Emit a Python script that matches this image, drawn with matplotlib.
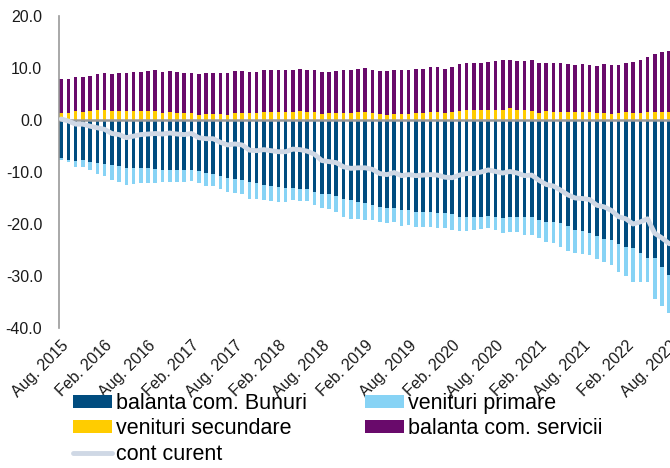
#!/usr/bin/env python3

# Current account components (monthly, stacked bars) with the current account line

import matplotlib
matplotlib.use('Agg')
import matplotlib.pyplot as plt
import numpy as np
import pandas as pd

months = pd.period_range('2015-08', '2022-08', freq='M')

goods = [-7.4, -7.6, -7.9, -7.7, -8.0, -8.2, -8.5, -8.7, -8.8, -9.2,
         -9.3, -9.3, -9.3, -9.4, -9.6, -9.6, -9.6, -9.7, -9.7, -9.9,
         -10.1, -10.4, -10.8, -11.1, -11.3, -11.5, -11.9, -12.2, -12.5, -12.7,
         -12.9, -13.1, -13.1, -13.3, -13.3, -13.8, -14.3, -14.2, -14.7, -15.1,
         -15.3, -15.7, -15.9, -16.3, -16.7, -16.9, -17.0, -17.3, -17.3, -17.6,
         -17.6, -17.6, -17.8, -17.9, -18.1, -18.6, -18.6, -18.6, -18.6, -18.5,
         -18.7, -18.9, -18.7, -18.7, -18.7, -18.6, -19.2, -19.6, -19.6, -19.9,
         -20.4, -21.2, -21.4, -21.7, -22.4, -22.9, -23.1, -23.8, -24.4, -24.7,
         -25.6, -26.6, -26.6, -28.2, -29.8]

primary = [-0.3, -0.4, -1.1, -1.3, -1.7, -2.2, -2.3, -2.8, -3.1, -3.3,
           -3.0, -2.8, -2.8, -2.8, -2.3, -2.3, -2.3, -2.2, -2.0, -2.3,
           -2.5, -2.2, -2.5, -2.7, -2.8, -2.7, -3.2, -3.0, -2.9, -2.9,
           -2.9, -2.7, -2.2, -2.3, -2.3, -2.5, -2.7, -3.0, -2.9, -3.5,
           -3.7, -3.4, -3.3, -2.9, -3.0, -3.0, -2.7, -3.0, -2.9, -2.9,
           -2.9, -3.0, -3.0, -2.9, -3.1, -2.7, -2.7, -2.6, -2.4, -2.3,
           -2.5, -2.8, -2.8, -2.8, -3.4, -3.5, -3.4, -3.8, -4.0, -4.5,
           -4.7, -4.4, -4.4, -4.2, -4.4, -4.5, -4.8, -5.4, -5.6, -6.4,
           -5.5, -4.5, -7.9, -7.6, -7.3]

secondary = [1.4, 1.3, 1.7, 1.5, 1.7, 1.9, 1.9, 1.7, 1.7, 1.7,
             1.7, 1.7, 1.7, 1.8, 1.3, 1.5, 1.3, 1.3, 1.3, 1.0,
             1.1, 1.2, 1.2, 1.0, 1.3, 1.3, 1.3, 1.3, 1.5, 1.5,
             1.5, 1.5, 1.5, 1.7, 1.5, 1.6, 1.2, 1.3, 1.3, 1.3,
             1.3, 1.5, 1.5, 1.3, 1.1, 1.0, 1.1, 1.2, 1.2, 1.3,
             1.3, 1.5, 1.6, 1.3, 1.6, 1.7, 1.9, 1.9, 1.9, 2.0,
             2.0, 2.0, 2.3, 1.9, 1.9, 1.8, 1.4, 1.7, 1.6, 1.6,
             1.5, 1.5, 1.6, 1.6, 1.3, 1.3, 1.2, 1.4, 1.5, 1.3,
             1.4, 1.5, 1.6, 1.6, 1.6]

services = [6.5, 6.5, 6.5, 6.7, 6.8, 7.0, 7.1, 7.2, 7.4, 7.4,
            7.5, 7.6, 7.7, 7.8, 7.9, 7.9, 7.9, 7.8, 7.8, 7.8,
            7.9, 7.8, 7.8, 8.0, 8.2, 8.1, 8.0, 8.0, 8.2, 8.2,
            8.2, 8.2, 8.2, 8.2, 8.1, 8.1, 8.0, 7.9, 8.1, 8.3,
            8.4, 8.4, 8.5, 8.4, 8.3, 8.4, 8.5, 8.4, 8.5, 8.5,
            8.6, 8.6, 8.6, 8.5, 8.5, 9.0, 9.1, 9.0, 9.1, 9.2,
            9.3, 9.5, 9.3, 9.4, 9.5, 9.7, 9.6, 9.3, 9.3, 9.3,
            9.2, 9.1, 9.1, 9.0, 9.1, 9.4, 9.3, 9.2, 9.5, 9.8,
            10.1, 10.6, 11.1, 11.5, 11.7]

tick_labels = ['Aug. 2015', 'Feb. 2016', 'Aug. 2016', 'Feb. 2017', 'Aug. 2017',
               'Feb. 2018', 'Aug. 2018', 'Feb. 2019', 'Aug. 2019', 'Feb. 2020',
               'Aug. 2020', 'Feb. 2021', 'Aug. 2021', 'Feb. 2022', 'Aug. 2022']

labels = ['balanta com. Bunuri', 'venituri primare', 'venituri secundare',
          'balanta com. servicii', 'cont curent']
colors = ['#004c7f', '#87d3f5', '#ffcc00', '#690a6b', '#cfd8e5']


def main():
    plt.rcParams['font.family'] = ['Liberation Sans', 'DejaVu Sans']

    df = pd.DataFrame({'goods': goods, 'primary': primary,
                       'secondary': secondary, 'services': services})
    df['current'] = df.sum(axis=1)
    x = np.arange(len(months))

    fig = plt.figure(figsize=(6.7, 4.68), dpi=100)
    ax = fig.add_axes([59 / 670, 1 - 328 / 468, 1 - 59 / 670, 312 / 468])

    w = 0.5
    b_goods = ax.bar(x, df.goods, w, color=colors[0], zorder=2)
    b_prim = ax.bar(x, df.primary, w, bottom=df.goods, color=colors[1], zorder=2)
    b_sec = ax.bar(x, df.secondary, w, color=colors[2], zorder=2)
    b_serv = ax.bar(x, df.services, w, bottom=df.secondary, color=colors[3], zorder=2)
    ax.axhline(0, color='#999999', linewidth=1.8, zorder=3)
    line, = ax.plot(x, df.current, color=colors[4], linewidth=3.5, zorder=4,
                    solid_capstyle='round')

    ax.set_xlim(-0.3, 84.1)
    ax.set_ylim(-40, 20)
    ax.set_yticks(np.arange(-40, 21, 10))
    ax.set_yticklabels([f'{v:.1f}' for v in np.arange(-40, 21, 10)])
    ax.set_xticks(x[::6])
    ax.set_xticklabels(tick_labels, rotation=45, ha='right',
                       rotation_mode='anchor')
    ax.tick_params(axis='both', length=0, labelsize=11.5, colors='#1a1a1a')
    ax.tick_params(axis='x', pad=7)
    ax.tick_params(axis='y', pad=12)

    for side in ['top', 'right', 'bottom']:
        ax.spines[side].set_visible(False)
    ax.spines['left'].set_color('#999999')
    ax.spines['left'].set_linewidth(1.2)

    handles = [b_goods, b_sec, line, b_prim, b_serv]
    names = [labels[0], labels[2], labels[4], labels[1], labels[3]]
    fig.legend(handles, names, loc='upper left', bbox_to_anchor=(73 / 670, 1 - 393 / 468),
               ncol=2, frameon=False, fontsize=15.5, handlelength=1.8,
               handleheight=0.55, handletextpad=0.2, columnspacing=2.7,
               labelspacing=0.2, borderpad=0, borderaxespad=0)

    fig.savefig('out.png', dpi=100)


if __name__ == "__main__":
    main()
